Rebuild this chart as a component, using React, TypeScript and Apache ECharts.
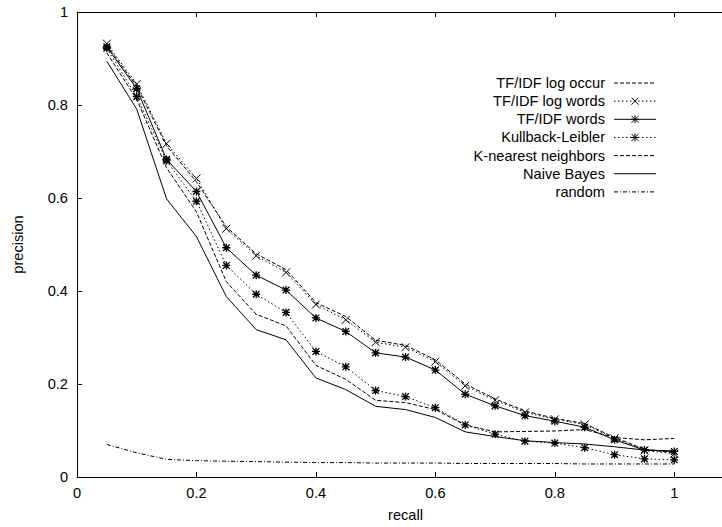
import React, { useEffect, useRef } from 'react';
import * as echarts from 'echarts';

// x values (recall)
const recall = [0.05, 0.1, 0.15, 0.2, 0.25, 0.3, 0.35, 0.4, 0.45, 0.5, 0.55, 0.6, 0.65, 0.7, 0.75, 0.8, 0.85, 0.9, 0.95, 1.0];

// precision values per method
const tfidfLogOccur = [0.928, 0.84, 0.712, 0.635, 0.538, 0.48, 0.446, 0.375, 0.345, 0.294, 0.283, 0.252, 0.2, 0.168, 0.142, 0.126, 0.115, 0.085, 0.06, 0.052];
const tfidfLogWords = [0.932, 0.845, 0.717, 0.642, 0.534, 0.476, 0.44, 0.371, 0.338, 0.29, 0.279, 0.248, 0.196, 0.165, 0.139, 0.124, 0.113, 0.083, 0.057, 0.05];
const tfidfWords = [0.925, 0.835, 0.683, 0.614, 0.493, 0.434, 0.402, 0.342, 0.313, 0.267, 0.258, 0.23, 0.178, 0.153, 0.132, 0.12, 0.107, 0.08, 0.058, 0.055];
const kullbackLeibler = [0.922, 0.818, 0.68, 0.593, 0.455, 0.393, 0.354, 0.27, 0.237, 0.186, 0.173, 0.149, 0.112, 0.092, 0.077, 0.073, 0.063, 0.048, 0.039, 0.037];
const kNearest = [0.912, 0.812, 0.665, 0.57, 0.42, 0.35, 0.325, 0.24, 0.21, 0.165, 0.16, 0.145, 0.112, 0.097, 0.098, 0.099, 0.102, 0.085, 0.08, 0.083];
const naiveBayes = [0.894, 0.791, 0.598, 0.517, 0.388, 0.317, 0.295, 0.213, 0.188, 0.152, 0.145, 0.128, 0.097, 0.087, 0.078, 0.074, 0.071, 0.065, 0.058, 0.056];
const random = [0.07, 0.052, 0.038, 0.035, 0.034, 0.033, 0.032, 0.031, 0.031, 0.03, 0.03, 0.03, 0.029, 0.029, 0.029, 0.029, 0.028, 0.028, 0.028, 0.028];

const seriesNames = ['TF/IDF log occur', 'TF/IDF log words', 'TF/IDF words', 'Kullback-Leibler', 'K-nearest neighbors', 'Naive Bayes', 'random'];
const seriesValues = [tfidfLogOccur, tfidfLogWords, tfidfWords, kullbackLeibler, kNearest, naiveBayes, random];

const xAxisTitle = 'recall';
const yAxisTitle = 'precision';

const FONT = "'Liberation Sans', Arial, Helvetica, sans-serif";
const FS = 14.6;
const CROSS = 'path://M0,0L10,10M10,0L0,10';
const STAR = 'path://M0,0L10,10M10,0L0,10M5,-1L5,11M-1,5L11,5';

const DASHED = [4, 2];
const DOTTED = [1.5, 2.5];
const DASHDOT = [4, 2, 1, 2];

const styles: any[] = [
  { dash: DASHED, marker: 'none' },
  { dash: DOTTED, marker: 'cross' },
  { dash: null, marker: 'star' },
  { dash: DOTTED, marker: 'star' },
  { dash: DASHED, marker: 'none' },
  { dash: null, marker: 'none' },
  { dash: DASHDOT, marker: 'none' },
];

function markerLines(cx: number, cy: number, kind: string): any[] {
  const h = 3.5;
  const st = { stroke: '#000', lineWidth: 1 };
  const out: any[] = [];
  if (kind === 'cross' || kind === 'star') {
    out.push({ type: 'line', shape: { x1: cx - h, y1: cy - h, x2: cx + h, y2: cy + h }, style: st });
    out.push({ type: 'line', shape: { x1: cx - h, y1: cy + h, x2: cx + h, y2: cy - h }, style: st });
  }
  if (kind === 'star') {
    out.push({ type: 'line', shape: { x1: cx, y1: cy - h - 0.5, x2: cx, y2: cy + h + 0.5 }, style: st });
    out.push({ type: 'line', shape: { x1: cx - h - 0.5, y1: cy, x2: cx + h + 0.5, y2: cy }, style: st });
  }
  return out;
}

export default function App() {
  const ref = useRef<HTMLDivElement>(null);
  useEffect(() => {
    const chart = echarts.init(ref.current!, null, { renderer: 'svg' });
    const fmt = (v: number) => (Math.abs(v * 5 - Math.round(v * 5)) < 1e-6 ? String(+v.toFixed(1)) : '');

    const legendTextRight = 605;
    const legendLineX1 = 614;
    const legendLineX2 = 656;
    const legendTop = 83;
    const legendStep = 18.15;
    const legendElems: any[] = [];
    seriesNames.forEach((name, i) => {
      const y = legendTop + i * legendStep;
      legendElems.push({
        type: 'text', x: legendTextRight, y,
        style: { text: name, fill: '#000', font: `${FS}px ${FONT}`, align: 'right', verticalAlign: 'middle' },
      });
      legendElems.push({
        type: 'line', shape: { x1: legendLineX1, y1: y, x2: legendLineX2, y2: y },
        style: { stroke: '#000', lineWidth: 1, lineDash: styles[i].dash || undefined },
      });
      markerLines((legendLineX1 + legendLineX2) / 2, y, styles[i].marker).forEach((m) => legendElems.push(m));
    });

    chart.setOption({
      animation: false,
      backgroundColor: '#fff',
      textStyle: { fontFamily: FONT },
      grid: { left: 77, right: 6, top: 12, bottom: 47 },
      graphic: legendElems,
      xAxis: [
        {
          type: 'value', min: 0, max: 1.1, interval: 0.2,
          name: xAxisTitle, nameLocation: 'middle', nameGap: 30,
          nameTextStyle: { fontSize: FS, color: '#000', fontFamily: FONT },
          axisLine: { onZero: false, lineStyle: { color: '#000', width: 1 } },
          axisTick: { inside: true, length: 5, lineStyle: { color: '#000' } },
          axisLabel: { fontSize: FS, color: '#000', margin: 8, formatter: fmt, fontFamily: FONT },
          splitLine: { show: false },
        },
        {
          type: 'value', min: 0, max: 1.1, interval: 0.2, position: 'top',
          axisLine: { onZero: false, lineStyle: { color: '#000', width: 1 } },
          axisTick: { inside: true, length: 5, lineStyle: { color: '#000' } },
          axisLabel: { show: false },
          splitLine: { show: false },
        },
      ],
      yAxis: {
        type: 'value', min: 0, max: 1, interval: 0.2,
        name: yAxisTitle, nameLocation: 'middle', nameGap: 52, nameRotate: 90,
        nameTextStyle: { fontSize: FS, color: '#000', fontFamily: FONT },
        axisLine: { onZero: false, lineStyle: { color: '#000', width: 1 } },
        axisTick: { inside: true, length: 5, lineStyle: { color: '#000' } },
        axisLabel: { fontSize: FS, color: '#000', margin: 9, formatter: fmt, fontFamily: FONT },
        splitLine: { show: false },
      },
      series: seriesNames.map((name, i) => ({
        name,
        type: 'line',
        xAxisIndex: 0,
        data: recall.map((r, j) => [r, seriesValues[i][j]]),
        symbol: styles[i].marker === 'cross' ? CROSS : styles[i].marker === 'star' ? STAR : 'none',
        symbolSize: 8,
        showSymbol: styles[i].marker !== 'none',
        itemStyle: { color: '#000', borderColor: '#000', borderWidth: styles[i].marker === 'star' ? 1.3 : 1 },
        lineStyle: { color: '#000', width: 1, type: styles[i].dash || 'solid' },
        emphasis: { disabled: true },
        z: 10 - i,
      })),
    });
    return () => chart.dispose();
  }, []);
  return (
    <div style={{ position: 'absolute', left: 0, top: 0, width: 722, height: 527, overflow: 'hidden', background: '#fff' }}>
      <div ref={ref} style={{ width: 740, height: 527 }} />
    </div>
  );
}
